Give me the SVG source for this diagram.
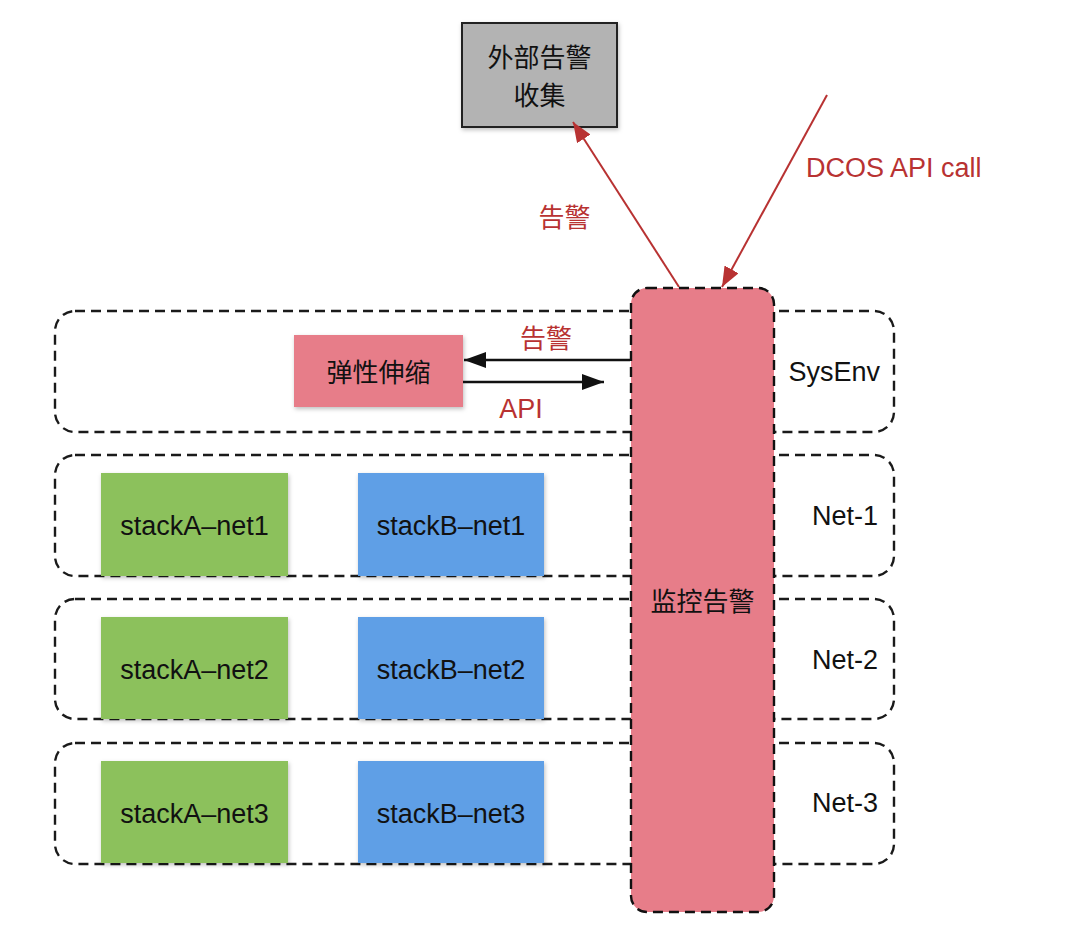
<svg xmlns="http://www.w3.org/2000/svg" width="1086" height="930" viewBox="0 0 1086 930">
<style>
.cont{fill:none;stroke:#1a1a1a;stroke-width:2.4;stroke-dasharray:10 6}
.green{fill:#8cc15b}
.blue{fill:#5e9fe6}
.pink{fill:#e77d89}
.lat{font-family:"Liberation Sans","Noto Sans",Arial,sans-serif;font-size:27px;fill:#111}
.cjk{font-family:"Noto Sans CJK SC","Liberation Sans",sans-serif;font-size:26px;fill:#111}
.red{fill:#b83232}
.rline{stroke:#b83232;stroke-width:2;fill:none}
.bline{stroke:#111;stroke-width:2.5;fill:none}
</style>
<defs>
<filter id="sh" x="-10%" y="-10%" width="130%" height="130%">
<feDropShadow dx="1" dy="2" stdDeviation="2" flood-color="#000" flood-opacity="0.25"/>
</filter>
<marker id="ar" markerUnits="userSpaceOnUse" markerWidth="24" markerHeight="20" refX="20" refY="8" orient="auto">
<path d="M0,0 L20,8 L0,16 Z" fill="#b83232"/>
</marker>
<marker id="ab" markerUnits="userSpaceOnUse" markerWidth="26" markerHeight="20" refX="22" refY="8" orient="auto">
<path d="M0,0 L22,8 L0,16 Z" fill="#111"/>
</marker>
</defs>
<rect width="1086" height="930" fill="#fff"/>

<g id="sysenv">
<rect class="cont" x="55" y="311" width="839" height="121" rx="20"/>
<text class="lat" x="880" y="381" text-anchor="end">SysEnv</text>
</g>
<g id="net1">
<rect class="cont" x="55" y="455" width="839" height="121" rx="20"/>
<text class="lat" x="878" y="525" text-anchor="end">Net-1</text>
</g>
<g id="net2">
<rect class="cont" x="55" y="599" width="839" height="120" rx="20"/>
<text class="lat" x="878" y="669" text-anchor="end">Net-2</text>
</g>
<g id="net3">
<rect class="cont" x="55" y="743" width="839" height="121" rx="20"/>
<text class="lat" x="878" y="812" text-anchor="end">Net-3</text>
</g>

<g id="stackA-net1"><rect class="green" filter="url(#sh)" x="101" y="473" width="187" height="103"/><text class="lat" x="194.5" y="535" text-anchor="middle">stackA–net1</text></g>
<g id="stackB-net1"><rect class="blue" filter="url(#sh)" x="358" y="473" width="186" height="103"/><text class="lat" x="451" y="535" text-anchor="middle">stackB–net1</text></g>
<g id="stackA-net2"><rect class="green" filter="url(#sh)" x="101" y="617" width="187" height="102"/><text class="lat" x="194.5" y="679" text-anchor="middle">stackA–net2</text></g>
<g id="stackB-net2"><rect class="blue" filter="url(#sh)" x="358" y="617" width="186" height="102"/><text class="lat" x="451" y="679" text-anchor="middle">stackB–net2</text></g>
<g id="stackA-net3"><rect class="green" filter="url(#sh)" x="101" y="761" width="187" height="102"/><text class="lat" x="194.5" y="823" text-anchor="middle">stackA–net3</text></g>
<g id="stackB-net3"><rect class="blue" filter="url(#sh)" x="358" y="761" width="186" height="102"/><text class="lat" x="451" y="823" text-anchor="middle">stackB–net3</text></g>

<g id="autoscale"><rect class="pink" filter="url(#sh)" x="294" y="335" width="169" height="72"/><text class="cjk" x="378.5" y="382" text-anchor="middle" font-size="28">弹性伸缩</text></g>

<g id="monitor">
<rect class="pink" x="631" y="288" width="143" height="624" rx="16" stroke="#111" stroke-width="2.4" stroke-dasharray="10 6"/>
<text class="cjk" x="702.5" y="611" text-anchor="middle" font-size="28">监控告警</text>
</g>

<g id="external">
<rect x="462" y="23" width="155" height="104" fill="#b3b3b3" stroke="#222" stroke-width="2" filter="url(#sh)"/>
<text class="cjk" x="539.5" y="67" text-anchor="middle">外部告警</text>
<text class="cjk" x="539.5" y="105" text-anchor="middle">收集</text>
</g>

<g id="connectors">
<line class="rline" x1="679" y1="287" x2="573" y2="122" marker-end="url(#ar)"/>
<line class="rline" x1="827" y1="95" x2="722" y2="287" marker-end="url(#ar)"/>
<line class="bline" x1="630" y1="360" x2="464" y2="360" marker-end="url(#ab)"/>
<line class="bline" x1="463" y1="382" x2="604" y2="382" marker-end="url(#ab)"/>
<text class="cjk red" x="564.5" y="227" text-anchor="middle" font-size="27">告警</text>
<text class="lat red" x="806" y="177" font-size="28">DCOS API call</text>
<text class="cjk red" x="546" y="348" text-anchor="middle" font-size="27">告警</text>
<text class="lat red" x="521" y="418" text-anchor="middle" font-size="27">API</text>
</g>
</svg>
